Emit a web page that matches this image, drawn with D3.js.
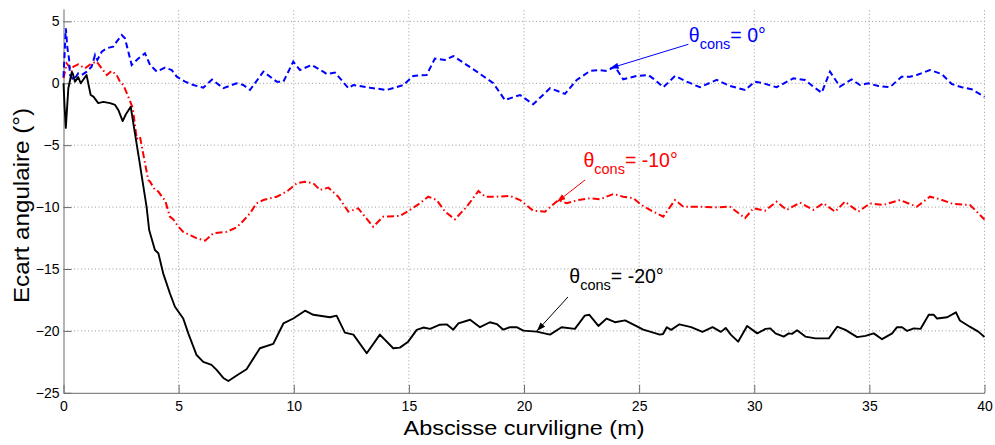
<!DOCTYPE html>
<html>
<head>
<meta charset="utf-8">
<script src="https://cdn.jsdelivr.net/npm/d3@7"></script>
<style>
  body { margin: 0; background: #fff; }
  svg { font-family: "Liberation Sans", Arial, Helvetica, sans-serif; }
  .grid line { stroke: #9a9a9a; stroke-width: 1; stroke-dasharray: 1,2.5; }
  .axis path, .axis line { stroke: #6a6a6a; }
  .axis text { font-size: 14px; fill: #000; }
</style>
</head>
<body>
<div id="chart"></div>
<script>
// theta_cons = 0 deg (blue, dashed)
var absc0 = [0, 0.10, 0.17, 0.24, 0.28, 0.43, 0.54, 0.64, 0.79, 1.01, 1.22, 1.37, 1.47, 1.66, 1.88, 2.16, 2.31, 2.53, 2.67,
  2.96, 3.25, 3.54, 3.76, 4.05, 4.41, 4.70, 4.92, 5.28, 5.64, 6.07, 6.45, 6.94, 7.52, 7.81, 8.10, 8.68, 9.26, 9.55,
  9.98, 10.27, 10.78, 11.28, 11.43, 11.79, 12.01, 12.37, 12.59, 13.31, 14.04, 14.76, 15.19, 15.77, 16.13, 16.57,
  16.93, 17.36, 17.95, 18.67, 19.17, 19.83, 20.40, 21.13, 21.78, 22.29, 22.87, 23.23, 23.59, 23.95, 24.31, 24.89,
  25.40, 25.69, 26.05, 26.56, 27.07, 27.64, 28.37, 28.95, 29.60, 30.03, 30.39, 30.97, 31.70, 32.20, 32.56, 32.93,
  33.29, 33.72, 34.23, 34.59, 34.95, 35.39, 35.89, 36.40, 36.76, 37.06, 37.63, 38.14, 38.58, 39.01, 39.44, 40];
var ecart0 = [0.5, 4.44, 2.83, 2.0, 0.67, 0.27, 0.53, 0.8, 0.67, 0.94, 1.34, 2.29, 1.88, 2.55, 2.83, 2.96, 3.36, 3.9, 3.63,
  1.48, 2.0, 2.42, 1.48, 0.94, 1.26, 1.07, 0.53, 0.13, -0.14, -0.36, 0.3, -0.4, 0.0, -0.14, -0.54, 0.94, 0.13, 0.13,
  1.75, 1.07, 1.48, 0.94, 0.75, 0.86, 0.4, -0.4, -0.14, -0.36, -0.54, -0.14, 0.59, 0.67, 2.0, 1.88,
  2.2, 1.67, 0.94, 0.0, -1.35, -0.95, -1.7, -0.4, -0.86, 0.27, 1.0, 1.07, 1.0, 1.34, 0.32, 0.59,
  0.67, 0.27, -0.32, 0.59, 0.13, -0.32, 0.27, -0.22, -0.54, 0.13, 0.0, -0.32, 0.4, 0.27, -0.27, -0.76,
  0.94, -0.27, 0.32, -0.14, 0.0, -0.22, -0.32, 0.53, 0.53, 0.67, 1.07, 0.75, -0.06, -0.32, -0.48, -1.1];

// theta_cons = -10 deg (red, dash-dot)
var absc10 = [0, 0.14, 0.25, 0.36, 0.43, 0.64, 0.93, 1.22, 1.44, 1.66, 1.88, 2.09, 2.31, 2.45, 2.60, 2.81, 3.01, 3.18,
  3.32, 3.54, 3.68, 3.76, 3.97, 4.12, 4.33, 4.41, 4.62, 4.77, 4.99, 5.20, 5.57, 5.79, 6.07, 6.15, 6.51, 7.09, 7.52,
  7.81, 8.10, 8.38, 8.68, 9.26, 9.69, 10.13, 10.49, 10.85, 11.14, 11.50, 11.93, 12.37, 12.80, 13.45, 13.89, 14.61,
  15.05, 15.48, 15.84, 16.21, 16.57, 17.00, 17.51, 18.02, 18.31, 18.81, 19.39, 19.83, 20.40, 20.91, 21.49, 21.85,
  22.36, 22.87, 23.30, 23.88, 24.31, 24.75, 25.11, 25.47, 26.05, 26.56, 26.92, 27.64, 28.37, 28.95, 29.60, 29.96,
  30.47, 30.97, 31.41, 31.98, 32.56, 33.00, 33.51, 33.94, 34.52, 35.03, 35.60, 36.33, 37.06, 37.63, 38.07, 38.65,
  39.37, 40];
var ecart10 = [0.4, 1.6, 1.34, 0.94, 1.34, 1.53, 1.2, 1.6, 1.75, 1.2, 0.67, 1.0, 0.67, 0.13, -0.14, -1.08, -2.0, -4.5,
  -4.3, -6.46, -7.8, -7.95, -8.6, -8.75, -9.3, -9.43, -10.77, -11.0, -11.58, -12.0, -12.33, -12.52, -12.66, -12.71, -12.1, -12.0, -11.63,
  -11.1, -10.5, -9.7, -9.43, -9.16, -8.75, -8.08, -7.95, -8.08, -8.62, -8.43, -9.16, -10.37, -10.1, -11.58, -10.77, -10.72,
  -10.23, -9.69, -9.16, -9.43, -10.37, -10.99, -9.97, -8.7, -9.16, -9.16, -9.1, -9.43, -10.29, -10.37, -9.43, -9.69,
  -9.43, -9.29, -9.37, -8.94, -9.16, -9.29, -9.83, -10.23, -10.77, -9.43, -9.97, -9.97, -10.02, -9.97, -10.9, -10.1,
  -10.29, -9.56, -10.23, -9.64, -10.23, -9.69, -10.37, -9.56, -10.37, -9.7, -9.83, -9.43, -9.97, -9.16, -9.37, -9.75,
  -9.83, -11.0];

// theta_cons = -20 deg (black, solid)
var absc20 = [0, 0.05, 0.10, 0.21, 0.36, 0.40, 0.50, 0.64, 0.75, 1.00, 1.18, 1.30, 1.51, 1.73, 2.02, 2.24, 2.38, 2.57,
  2.71, 2.92, 3.10, 3.29, 3.47, 3.61, 3.72, 3.97, 4.12, 4.33, 4.62, 4.84, 5.20, 5.42, 5.78, 6.07, 6.43, 6.65, 6.94,
  7.16, 7.52, 7.95, 8.53, 9.11, 9.55, 9.98, 10.49, 10.85, 11.57, 11.86, 12.22, 12.59, 13.17, 13.74, 14.32, 14.61,
  14.97, 15.34, 15.63, 15.92, 16.35, 16.64, 16.93, 17.15, 17.66, 18.09, 18.52, 18.82, 19.10, 19.39, 19.68, 19.97,
  20.55, 21.13, 21.63, 22.21, 22.64, 22.84, 23.23, 23.59, 23.95, 24.39, 24.82, 25.18, 25.47, 25.90, 26.04, 26.20,
  26.39, 26.75, 27.26, 27.75, 28.19, 28.55, 28.76, 28.98, 29.30, 29.69, 30.13, 30.49, 30.70, 30.92, 31.28, 31.50,
  31.64, 31.86, 32.22, 32.66, 33.24, 33.60, 33.96, 34.47, 34.83, 35.19, 35.55, 35.99, 36.20, 36.42, 36.64, 36.93,
  37.22, 37.58, 37.80, 37.94, 38.38, 38.76, 38.93, 39.36, 39.73, 40];
var ecart20 = [0.0, -2.0, -3.6, -0.4, 0.9, 0.8, 0.13, 0.5, 0.0, 0.67, -0.95, -1.08, -1.6, -1.5, -1.6, -1.75, -2.15, -3.05,
  -2.5, -1.9, -4.0, -6.2, -8.35, -10.0, -11.85, -13.47, -13.73, -15.35, -16.96, -18.05, -19.0, -20.2, -21.95, -22.5, -22.75, -23.15, -23.8,
  -24.05, -23.6, -23.1, -21.4, -21.05, -19.4, -19.0, -18.37, -18.7, -18.9, -18.77, -20.14, -20.3, -21.8, -20.3, -21.4, -21.35,
  -20.87, -19.92, -19.73, -19.84, -19.5, -19.47, -19.9, -19.4, -19.1, -19.7, -19.3, -19.45, -19.9, -19.7, -19.7, -19.98,
  -20.06, -20.3, -19.7, -19.84, -18.77, -18.7, -19.6, -19.0, -19.3, -19.15, -19.55, -19.9, -20.06, -20.3, -20.25, -19.7,
  -19.92, -19.47, -19.7, -20.08, -19.7, -20.08, -19.76, -20.3, -20.87, -19.6, -20.2, -19.84, -19.8, -20.2, -20.46, -20.2,
  -20.24, -19.95, -20.46, -20.6, -20.6, -19.66, -19.92, -20.5, -20.4, -20.2, -20.67, -20.2, -19.7, -19.7, -20.0, -19.8,
  -19.84, -18.7, -18.7, -19.0, -18.9, -18.5, -19.16, -19.66, -20.06, -20.5];

var xTicks = [0, 5, 10, 15, 20, 25, 30, 35, 40];
var yTicks = [-25, -20, -15, -10, -5, 0, 5];

// annotation labels: text anchor and arrow (from -> to), in data units
var consLabels = ["= 0°", "= -10°", "= -20°"];
var labelX = [27.16, 22.58, 21.97], labelY = [3.34, -6.76, -16.16];
var arrowFromX = [27.14, 22.65, 21.91], arrowFromY = [3.15, -7.81, -17.26];
var arrowToX = [23.73, 21.43, 20.56], arrowToY = [1.21, -9.59, -20.01];
var colours = ["#0000ff", "#ff0000", "#000000"];

var width = 995, height = 445;
var margin = {top: 9, right: 10.5, bottom: 52.2, left: 63.5};

var svg = d3.select("#chart").append("svg")
  .attr("width", width)
  .attr("height", height);

var x = d3.scaleLinear().domain([0, 40]).range([margin.left, width - margin.right]);
var y = d3.scaleLinear().domain([-25, 6]).range([height - margin.bottom, margin.top]);

// dotted grid
var grid = svg.append("g").attr("class", "grid");
grid.selectAll(".gx")
  .data(xTicks.filter(function(d) { return d > 0; }))
  .enter().append("line")
    .attr("x1", function(d) { return x(d); })
    .attr("x2", function(d) { return x(d); })
    .attr("y1", y(-25))
    .attr("y2", y(6));
grid.selectAll(".gy")
  .data(yTicks.filter(function(d) { return d > -25; }))
  .enter().append("line")
    .attr("y1", function(d) { return y(d); })
    .attr("y2", function(d) { return y(d); })
    .attr("x1", x(0))
    .attr("x2", x(40));

// axes, ticks pointing inward
svg.append("g")
  .attr("class", "axis axis-x")
  .attr("transform", "translate(0," + y(-25) + ")")
  .call(d3.axisBottom(x).tickValues(xTicks).tickSizeInner(-8).tickSizeOuter(0).tickPadding(8.5));
svg.append("g")
  .attr("class", "axis axis-y")
  .attr("transform", "translate(" + x(0) + ",0)")
  .call(d3.axisLeft(y).tickValues(yTicks).tickSizeInner(-8).tickSizeOuter(0).tickPadding(4));

svg.append("text")
  .attr("x", (x(0) + x(40)) / 2)
  .attr("y", 434.5)
  .style("text-anchor", "middle")
  .style("font-size", "20.5px")
  .attr("textLength", 241)
  .attr("lengthAdjust", "spacingAndGlyphs")
  .text("Abscisse curviligne (m)");

svg.append("text")
  .attr("transform", "rotate(-90)")
  .attr("x", -205.5)
  .attr("y", 28.5)
  .style("text-anchor", "middle")
  .style("font-size", "22px")
  .attr("textLength", 195)
  .attr("lengthAdjust", "spacingAndGlyphs")
  .text("Ecart angulaire (°)");

// curves
var line = d3.line()
  .x(function(d) { return x(d[0]); })
  .y(function(d) { return y(d[1]); });

function pairs(a, b) { return a.map(function(v, i) { return [v, b[i]]; }); }

svg.append("path")
  .attr("d", line(pairs(absc10, ecart10)))
  .attr("fill", "none")
  .attr("stroke", colours[1])
  .attr("stroke-width", 2)
  .attr("stroke-dasharray", "7,3,1.5,3");

svg.append("path")
  .attr("d", line(pairs(absc0, ecart0)))
  .attr("fill", "none")
  .attr("stroke", colours[0])
  .attr("stroke-width", 2)
  .attr("stroke-dasharray", "6,3.5");

svg.append("path")
  .attr("d", line(pairs(absc20, ecart20)))
  .attr("fill", "none")
  .attr("stroke", colours[2])
  .attr("stroke-width", 1.9)
  .attr("stroke-linejoin", "round");

// annotations with arrows
var defs = svg.append("defs");
colours.forEach(function(c, i) {
  defs.append("marker")
    .attr("id", "arr" + i)
    .attr("viewBox", "0 -4 10 8")
    .attr("refX", 10)
    .attr("refY", 0)
    .attr("markerWidth", 9)
    .attr("markerHeight", 7)
    .attr("markerUnits", "userSpaceOnUse")
    .attr("orient", "auto")
    .append("path")
      .attr("d", "M0,-3.5L10,0L0,3.5Z")
      .attr("fill", c);
});

consLabels.forEach(function(lab, i) {
  svg.append("line")
    .attr("x1", x(arrowFromX[i]))
    .attr("y1", y(arrowFromY[i]))
    .attr("x2", x(arrowToX[i]))
    .attr("y2", y(arrowToY[i]))
    .attr("stroke", colours[i])
    .attr("stroke-width", 1)
    .attr("marker-end", "url(#arr" + i + ")");

  var t = svg.append("text")
    .attr("x", x(labelX[i]))
    .attr("y", y(labelY[i]))
    .attr("fill", colours[i])
    .style("font-size", "19.5px");
  t.append("tspan").text("θ");
  t.append("tspan").attr("dy", 7).style("font-size", "14.5px").text("cons");
  t.append("tspan").attr("dy", -7).text(lab);
});
</script>
</body>
</html>
